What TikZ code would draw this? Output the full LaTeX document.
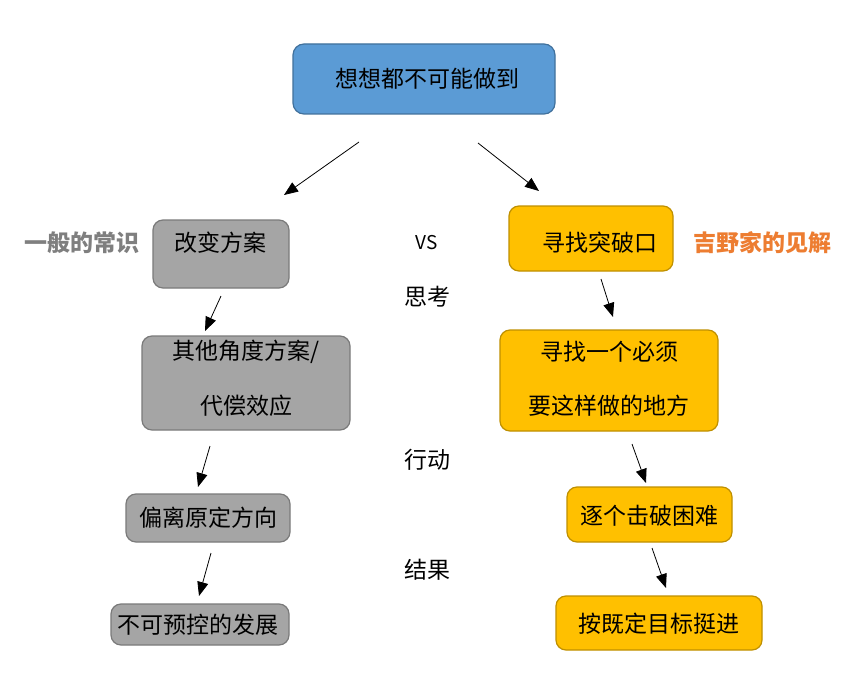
\documentclass[tikz,border=0pt]{standalone}
\usepackage{fontspec}
\setmainfont{Noto Sans CJK SC}
\usetikzlibrary{arrows.meta}
\definecolor{topblue}{HTML}{5B9BD5}
\definecolor{topborder}{HTML}{41719C}
\definecolor{boxgray}{HTML}{A5A5A5}
\definecolor{grayborder}{HTML}{7A7A7A}
\definecolor{boxgold}{HTML}{FFC000}
\definecolor{goldborder}{HTML}{BF9000}
\definecolor{labgray}{HTML}{7F7F7F}
\definecolor{laborange}{HTML}{ED7D31}
\begin{document}
\begin{tikzpicture}[x=1pt,y=-1pt,
  txt/.style={font=\fontsize{23}{27}\selectfont, inner sep=0pt},
  bluebox/.style={draw=topborder, fill=topblue, line width=1.2pt, rounded corners=11pt},
  graybox/.style={draw=grayborder, fill=boxgray, line width=1.2pt, rounded corners=10pt},
  goldbox/.style={draw=goldborder, fill=boxgold, line width=1.2pt, rounded corners=10pt},
  arr/.style={-{Triangle[length=14pt,width=11pt]}, line width=0.8pt, black}]
\useasboundingbox (0,0) rectangle (856,682);
\fill[white] (0,0) rectangle (856,682);
% boxes
\draw[bluebox] (293,44) rectangle (555,114);
\node[txt] (top) at (427,79) {想想都不可能做到};
\draw[graybox] (153,220) rectangle (289,288);
\node[txt] (l1) at (220,243) {改变方案};
\draw[graybox] (142,336) rectangle (350,430);
\node[txt] (l2a) at (246,352) {其他角度方案/};
\node[txt] (l2b) at (246,406) {代偿效应};
\draw[graybox] (126,494) rectangle (290,542);
\node[txt] (l3) at (208,518) {偏离原定方向};
\draw[graybox] (111,604) rectangle (289,645);
\node[txt] (l4) at (198,625) {不可预控的发展};
\draw[goldbox] (509,206) rectangle (673,271);
\node[txt] (r1) at (600,243) {寻找突破口};
\draw[goldbox] (500,330) rectangle (718,431);
\node[txt] (r2a) at (609,352) {寻找一个必须};
\node[txt] (r2b) at (609,406) {要这样做的地方};
\draw[goldbox] (567,487) rectangle (732,542);
\node[txt] (r3) at (649,516) {逐个击破困难};
\draw[goldbox] (556,596) rectangle (762,650);
\node[txt] (r4) at (659,624) {按既定目标挺进};
% labels
\node[txt, font=\fontsize{23}{27}\selectfont\bfseries, text=labgray] (lg) at (82,243) {一般的常识};
\node[txt, font=\fontsize{23}{27}\selectfont\bfseries, text=laborange] (lo) at (762,243) {吉野家的见解};
\node[txt, font=\fontsize{19}{22}\selectfont] (vs) at (427,243) {VS};
\node[txt] (sk) at (427,297) {思考};
\node[txt] (xd) at (427,460) {行动};
\node[txt] (jg) at (427,570) {结果};
% arrow coordinates
\coordinate (a1s) at (359,142); \coordinate (a1e) at (284,195);
\coordinate (a2s) at (478,143); \coordinate (a2e) at (539,191);
\coordinate (a3s) at (221,296); \coordinate (a3e) at (205,331);
\coordinate (a4s) at (601,279); \coordinate (a4e) at (613,317);
\coordinate (a5s) at (210,446); \coordinate (a5e) at (198,487);
\coordinate (a6s) at (632,444); \coordinate (a6e) at (646,483);
\coordinate (a7s) at (211,553); \coordinate (a7e) at (199,596);
\coordinate (a8s) at (652,548); \coordinate (a8e) at (666,588);
\foreach \i in {1,...,8} {\draw[arr] (a\i s) -- (a\i e);}
\end{tikzpicture}
\end{document}
